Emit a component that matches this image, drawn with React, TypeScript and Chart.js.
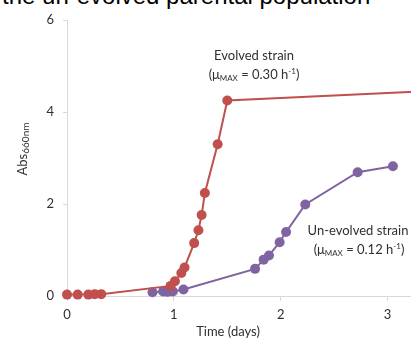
import React, { useEffect, useRef } from "react";
import { Chart, registerables } from "chart.js";

Chart.register(...registerables);

// ---- data ----
const evolvedTime = [0, 0.1, 0.2, 0.26, 0.32, 0.97, 1.01, 1.07, 1.1, 1.19, 1.23, 1.26, 1.29, 1.41, 1.5, 3.5];
const evolvedAbs = [0.03, 0.03, 0.03, 0.04, 0.04, 0.22, 0.32, 0.5, 0.62, 1.15, 1.43, 1.76, 2.24, 3.3, 4.25, 4.47];
const unevolvedTime = [0.8, 0.9, 0.94, 0.99, 1.09, 1.76, 1.84, 1.89, 1.99, 2.05, 2.23, 2.72, 3.05];
const unevolvedAbs = [0.08, 0.1, 0.09, 0.1, 0.14, 0.59, 0.79, 0.88, 1.17, 1.39, 1.99, 2.69, 2.82];
const xTicks = [0, 1, 2, 3];
const yTicks = [0, 2, 4, 6];

const RED = "#C0504D";
const PURPLE = "#8064A2";
const FONT = "Lato, 'Open Sans', sans-serif";
const TEXT = "#303030";
const AXIS = "#D9D9D9";

type Seg = { t: string; size: number; dy: number };

function drawRich(ctx: CanvasRenderingContext2D, segs: Seg[], cx: number, cy: number) {
  let w = 0;
  const widths: number[] = [];
  segs.forEach((s) => {
    ctx.font = `${s.size}px ${FONT}`;
    const m = ctx.measureText(s.t).width;
    widths.push(m);
    w += m;
  });
  let x = cx - w / 2;
  ctx.fillStyle = TEXT;
  ctx.textBaseline = "middle";
  ctx.textAlign = "left";
  segs.forEach((s, i) => {
    ctx.font = `${s.size}px ${FONT}`;
    ctx.fillText(s.t, x, cy + s.dy);
    x += widths[i];
  });
}

function muLabel(val: string): Seg[] {
  return [
    { t: "(\u03bc", size: 13, dy: 0 },
    { t: "MAX", size: 8, dy: 3 },
    { t: ` = ${val} h`, size: 13, dy: 0 },
    { t: "-1", size: 8, dy: -4 },
    { t: ")", size: 13, dy: 0 },
  ];
}

const textPlugin = {
  id: "textPlugin",
  afterDraw(chart: any) {
    const ctx: CanvasRenderingContext2D = chart.ctx;
    ctx.save();
    drawRich(ctx, [{ t: "Evolved strain", size: 13, dy: 0 }], 254, 56);
    drawRich(ctx, muLabel("0.30"), 254, 75);
    drawRich(ctx, [{ t: "Un-evolved strain", size: 13, dy: 0 }], 358, 231);
    drawRich(ctx, muLabel("0.12"), 359, 250);
    drawRich(ctx, [{ t: "Time (days)", size: 13, dy: 0 }], 228, 332);
    ctx.translate(23, 149);
    ctx.rotate(-Math.PI / 2);
    drawRich(
      ctx,
      [
        { t: "Abs", size: 13, dy: 0 },
        { t: "660nm", size: 10, dy: 3 },
      ],
      0,
      0
    );
    ctx.restore();
  },
};

export default function App() {
  const ref = useRef<HTMLCanvasElement>(null);

  useEffect(() => {
    if (!ref.current) return;
    const chart = new Chart(ref.current, {
      type: "line",
      data: {
        datasets: [
          {
            label: "Evolved strain",
            data: evolvedTime.map((t, i) => ({ x: t, y: evolvedAbs[i] })),
            borderColor: RED,
            backgroundColor: RED,
            borderWidth: 2,
            pointRadius: 5,
            pointBorderWidth: 0,
            pointBackgroundColor: RED,
            tension: 0,
            clip: false,
          },
          {
            label: "Un-evolved strain",
            data: unevolvedTime.map((t, i) => ({ x: t, y: unevolvedAbs[i] })),
            borderColor: PURPLE,
            backgroundColor: PURPLE,
            borderWidth: 2,
            pointRadius: 5,
            pointBorderWidth: 0,
            pointBackgroundColor: PURPLE,
            tension: 0,
            clip: false,
          },
        ],
      },
      options: {
        animation: false,
        responsive: false,
        devicePixelRatio: 1,
        layout: { padding: { left: 0, top: 20, right: 29, bottom: 0 } },
        plugins: {
          legend: { display: false },
          tooltip: { enabled: false },
        },
        scales: {
          x: {
            type: "linear",
            min: 0,
            max: 3.5,
            afterBuildTicks: (s: any) => {
              s.ticks = xTicks.map((v) => ({ value: v }));
            },
            afterFit: (s: any) => {
              s.height = 44;
            },
            grid: {
              display: true,
              drawOnChartArea: false,
              drawTicks: true,
              tickLength: 5,
              color: AXIS,
            },
            border: { display: true, color: AXIS, width: 1 },
            ticks: {
              color: TEXT,
              font: { family: FONT, size: 13 },
              padding: 6,
              maxRotation: 0,
            },
          },
          y: {
            type: "linear",
            min: 0,
            max: 6,
            afterBuildTicks: (s: any) => {
              s.ticks = yTicks.map((v) => ({ value: v }));
            },
            afterFit: (s: any) => {
              s.width = 67;
            },
            grid: {
              display: true,
              drawOnChartArea: false,
              drawTicks: true,
              tickLength: 4,
              color: AXIS,
            },
            border: { display: true, color: AXIS, width: 1 },
            ticks: {
              color: TEXT,
              font: { family: FONT, size: 13 },
              padding: 9,
            },
          },
        },
      },
      plugins: [textPlugin],
    } as any);
    return () => chart.destroy();
  }, []);

  return (
    <div
      style={{
        position: "absolute",
        left: 0,
        top: 0,
        width: 411,
        height: 340,
        overflow: "hidden",
        background: "#fff",
      }}
    >
      <div
        style={{
          position: "absolute",
          left: 2,
          top: -16,
          whiteSpace: "nowrap",
          fontFamily: "'Liberation Sans', Arial, sans-serif",
          fontSize: 24,
          lineHeight: "24px",
          color: "#000",
        }}
      >
        the un-evolved parental population
      </div>
      <canvas
        ref={ref}
        width={470}
        height={340}
        style={{ position: "absolute", left: 0, top: 0, width: 470, height: 340 }}
      />
    </div>
  );
}
